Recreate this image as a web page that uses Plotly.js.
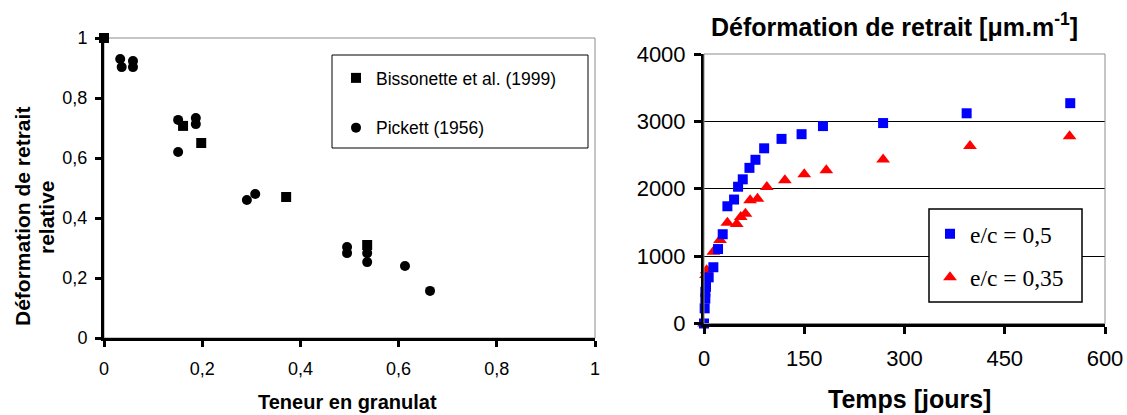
<!DOCTYPE html>
<html>
<head>
<meta charset="utf-8">
<script src="https://cdn.plot.ly/plotly-3.0.1.min.js"></script>
<style>html,body{margin:0;padding:0;background:#fff;}#chart{width:1127px;height:415px;}</style>
</head>
<body>
<div id="chart"></div>
<script>
// ---- Left chart data ----
const bissonetteX = [0, 0.161, 0.198, 0.371, 0.536];
const bissonetteY = [1, 0.707, 0.65, 0.47, 0.31];
const pickettX = [0.033, 0.036, 0.059, 0.059, 0.151, 0.151, 0.187, 0.187, 0.291, 0.308, 0.495, 0.495, 0.536, 0.536, 0.613, 0.664];
const pickettY = [0.93, 0.903, 0.923, 0.903, 0.727, 0.62, 0.733, 0.713, 0.46, 0.48, 0.303, 0.283, 0.283, 0.253, 0.24, 0.157];
const leftTickVals = [0, 0.2, 0.4, 0.6, 0.8, 1];
const leftTickText = ['0', '0,2', '0,4', '0,6', '0,8', '1'];

// ---- Right chart data ----
const ec05T = [0, 1, 2, 2, 3, 7, 14, 21, 28, 35, 45, 51, 58, 68, 77, 90, 116, 146, 178, 268, 393, 548];
const ec05V = [0, 225, 370, 470, 545, 685, 835, 1105, 1325, 1740, 1840, 2030, 2140, 2310, 2430, 2600, 2740, 2810, 2930, 2975, 3120, 3270];
const ec035T = [0, 3, 4, 14, 24, 35, 49, 55, 62, 69, 80, 94, 121, 150, 183, 268, 398, 547];
const ec035V = [0, 720, 790, 1065, 1240, 1495, 1475, 1580, 1630, 1830, 1850, 2025, 2125, 2215, 2275, 2435, 2635, 2780];
const rightXTickVals = [0, 150, 300, 450, 600];
const rightXTickText = ['0', '150', '300', '450', '600'];
const rightYTickVals = [0, 1000, 2000, 3000, 4000];
const rightYTickText = ['0', '1000', '2000', '3000', '4000'];

const W = 1127, H = 415;
const px = x => x / W;
const py = y => 1 - y / H;
const SANS = 'Liberation Sans, Arial, sans-serif';
const SERIF = 'Liberation Serif, Times New Roman, serif';

const traces = [
  {x: bissonetteX, y: bissonetteY, xaxis: 'x', yaxis: 'y', type: 'scatter', mode: 'markers',
   name: 'Bissonette et al. (1999)', legend: 'legend', legendgroup: 'a', cliponaxis: false,
   marker: {symbol: 'square', size: 10, color: '#000'}},
  {x: pickettX, y: pickettY, xaxis: 'x', yaxis: 'y', type: 'scatter', mode: 'markers',
   name: 'Pickett (1956)', legend: 'legend', legendgroup: 'b', cliponaxis: false,
   marker: {symbol: 'circle', size: 10, color: '#000'}},
  {x: ec05T, y: ec05V, xaxis: 'x2', yaxis: 'y2', type: 'scatter', mode: 'markers',
   name: 'e/c = 0,5', legend: 'legend2', legendgroup: 'c', legendrank: 1, cliponaxis: false,
   marker: {symbol: 'square', size: 10, color: '#0000ff'}},
  {x: ec035T, y: ec035V, xaxis: 'x2', yaxis: 'y2', type: 'scatter', mode: 'markers',
   name: 'e/c = 0,35', legend: 'legend2', legendgroup: 'd', legendrank: 2, cliponaxis: false,
   marker: {symbol: 'triangle-up', size: 12, color: '#ff0000'}}
];
// red triangles drawn under blue squares
const data = [traces[0], traces[1], traces[3], traces[2]];

const axBase = {showline: true, linecolor: '#000', linewidth: 3, ticks: 'outside', tickcolor: '#000',
  tickwidth: 3, zeroline: false, showgrid: false, tickmode: 'array'};
const inner = {showline: false, ticks: 'inside', tickcolor: '#000', tickwidth: 3, ticklen: 5,
  showticklabels: false, showgrid: false, zeroline: false, tickmode: 'array'};

const layout = {
  width: W, height: H, margin: {l: 0, r: 0, t: 0, b: 0},
  paper_bgcolor: '#fff', plot_bgcolor: 'rgba(0,0,0,0)', showlegend: true,
  separators: ', ',
  xaxis: Object.assign({}, axBase, {domain: [px(104), px(595)], range: [0, 1], anchor: 'y',
    tickvals: leftTickVals, ticktext: leftTickText, ticklen: 6, ticklabelstandoff: 6,
    tickfont: {family: SANS, size: 18, color: '#000'}}),
  yaxis: Object.assign({}, axBase, {domain: [py(338), py(38)], range: [0, 1], anchor: 'x',
    tickvals: leftTickVals, ticktext: leftTickText, ticklen: 6, ticklabelstandoff: 4,
    tickfont: {family: SANS, size: 18, color: '#000'}}),
  xaxis3: Object.assign({}, inner, {overlaying: 'x', anchor: 'y', range: [0, 1], tickvals: leftTickVals}),
  yaxis3: Object.assign({}, inner, {overlaying: 'y', anchor: 'x', range: [0, 1], tickvals: leftTickVals}),
  xaxis2: Object.assign({}, axBase, {domain: [px(704), px(1105)], range: [0, 600], anchor: 'y2',
    tickvals: rightXTickVals, ticktext: rightXTickText, ticklen: 7, ticklabelstandoff: 6,
    tickfont: {family: SANS, size: 22, color: '#000'}}),
  yaxis2: Object.assign({}, axBase, {domain: [py(323.5), py(54)], range: [0, 4000], anchor: 'x2',
    tickvals: rightYTickVals, ticktext: rightYTickText, ticklen: 7, ticklabelstandoff: 4,
    showgrid: true, gridcolor: '#000', gridwidth: 1,
    tickfont: {family: SANS, size: 22, color: '#000'}}),
  xaxis4: Object.assign({}, inner, {overlaying: 'x2', anchor: 'y2', range: [0, 600], tickvals: rightXTickVals, ticklen: 7}),
  yaxis4: Object.assign({}, inner, {overlaying: 'y2', anchor: 'x2', range: [0, 4000], tickvals: rightYTickVals, ticklen: 7}),
  legend: {x: px(336), y: py(60), xanchor: 'left', yanchor: 'top', bgcolor: 'rgba(0,0,0,0)',
    borderwidth: 0, traceorder: 'grouped', tracegroupgap: 24, itemwidth: 30,
    font: {family: SANS, size: 17.5, color: '#000'}},
  legend2: {x: px(930), y: py(212), xanchor: 'left', yanchor: 'top', bgcolor: 'rgba(0,0,0,0)',
    borderwidth: 0, traceorder: 'grouped', tracegroupgap: 10, itemwidth: 30,
    font: {family: SERIF, size: 23.5, color: '#000'}},
  shapes: [
    {type: 'rect', xref: 'x domain', yref: 'y domain', x0: 0, x1: 1, y0: 0, y1: 1,
     line: {color: '#8c8c8c', width: 1}, layer: 'below'},
    {type: 'rect', xref: 'x2 domain', yref: 'y2 domain', x0: 0, x1: 1, y0: 0, y1: 1,
     line: {color: '#8c8c8c', width: 1}, layer: 'above'},
    {type: 'rect', xref: 'paper', yref: 'paper', x0: px(332), x1: px(588), y0: py(148), y1: py(55),
     line: {color: '#000', width: 1}, fillcolor: 'rgba(0,0,0,0)'},
    {type: 'rect', xref: 'paper', yref: 'paper', x0: px(929), x1: px(1082), y0: py(302), y1: py(209),
     line: {color: '#000', width: 1.5}, fillcolor: '#fff', layer: 'above'}
  ],
  annotations: [
    {text: '<b>Déformation de retrait</b>', xref: 'paper', yref: 'paper', x: px(22), y: py(217),
     xanchor: 'center', yanchor: 'middle', textangle: -90, showarrow: false,
     font: {family: SANS, size: 21, color: '#000'}},
    {text: '<b>relative</b>', xref: 'paper', yref: 'paper', x: px(46), y: py(217),
     xanchor: 'center', yanchor: 'middle', textangle: -90, showarrow: false,
     font: {family: SANS, size: 21, color: '#000'}},
    {text: '<b>Teneur en granulat</b>', xref: 'paper', yref: 'paper', x: px(347), y: py(402),
     xanchor: 'center', yanchor: 'middle', showarrow: false, font: {family: SANS, size: 20, color: '#000'}},
    {text: '<b>Déformation de retrait [μm.m<sup>-1</sup>]</b>', xref: 'paper', yref: 'paper', x: px(894), y: py(25),
     xanchor: 'center', yanchor: 'middle', showarrow: false, font: {family: SANS, size: 25, color: '#000'}},
    {text: '<b>Temps [jours]</b>', xref: 'paper', yref: 'paper', x: px(909), y: py(399),
     xanchor: 'center', yanchor: 'middle', showarrow: false, font: {family: SANS, size: 25, color: '#000'}}
  ]
};

Plotly.newPlot('chart', data, layout, {staticPlot: true});
</script>
</body>
</html>
